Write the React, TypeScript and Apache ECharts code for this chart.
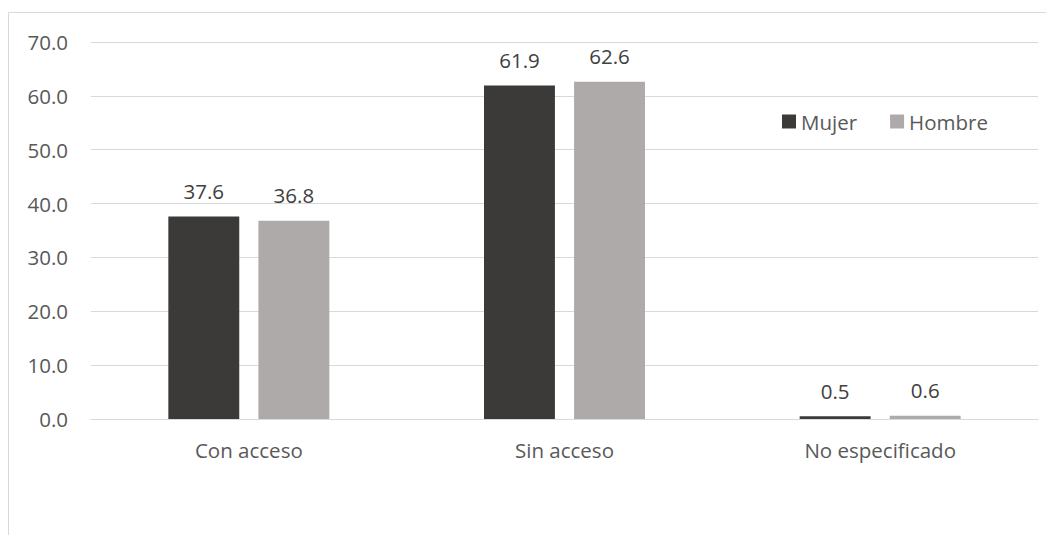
import React, { useEffect, useRef } from "react";
import * as echarts from "echarts";

const categories = ["Con acceso", "Sin acceso", "No especificado"];
const mujer = [37.6, 61.9, 0.5];
const hombre = [36.8, 62.6, 0.6];
const seriesNames = ["Mujer", "Hombre"];

const FONT = "'Open Sans', 'Noto Sans', sans-serif";

export default function App() {
  const ref = useRef<HTMLDivElement>(null);
  useEffect(() => {
    if (!ref.current) return;
    const chart = echarts.init(ref.current, null, { renderer: "svg" });
    const label = {
      show: true,
      position: "top",
      distance: 15,
      color: "#404040",
      fontSize: 20.5,
      fontFamily: FONT,
      formatter: (p: any) => Number(p.value).toFixed(1),
    };
    chart.setOption({
      animation: false,
      backgroundColor: "#ffffff",
      textStyle: { fontFamily: FONT },
      graphic: [
        {
          type: "rect",
          shape: { x: 0.5, y: 4.5, width: 1100, height: 600 },
          style: { fill: "none", stroke: "#d9d9d9", lineWidth: 1 },
          silent: true,
        },
      ],
      legend: {
        data: seriesNames,
        left: 769,
        top: 98,
        icon: "rect",
        itemWidth: 14,
        itemHeight: 14,
        itemGap: 33,
        textStyle: { color: "#595959", fontSize: 20.5, fontFamily: FONT },
      },
      grid: { left: 83, right: 16, top: 34, bottom: 116, containLabel: false },
      xAxis: {
        type: "category",
        data: categories,
        axisLine: { lineStyle: { color: "#d9d9d9", width: 1 } },
        axisTick: { show: false },
        axisLabel: { color: "#595959", fontSize: 20.5, margin: 20, fontFamily: FONT },
      },
      yAxis: {
        type: "value",
        min: 0,
        max: 70,
        interval: 10,
        axisLine: { show: false },
        axisTick: { show: false },
        splitLine: { lineStyle: { color: "#d9d9d9", width: 1 } },
        axisLabel: {
          color: "#595959",
          fontSize: 20.5,
          margin: 23,
          fontFamily: FONT,
          formatter: (v: number) => v.toFixed(1),
        },
      },
      series: [
        {
          name: seriesNames[0],
          type: "bar",
          data: mujer,
          barGap: "27%",
          barCategoryGap: "49%",
          itemStyle: { color: "#3b3a38" },
          label,
        },
        {
          name: seriesNames[1],
          type: "bar",
          data: hombre,
          barGap: "27%",
          barCategoryGap: "49%",
          itemStyle: { color: "#aeaaaa" },
          label,
        },
      ],
    });
    return () => chart.dispose();
  }, []);
  return <div ref={ref} style={{ width: 1046, height: 527 }} />;
}
